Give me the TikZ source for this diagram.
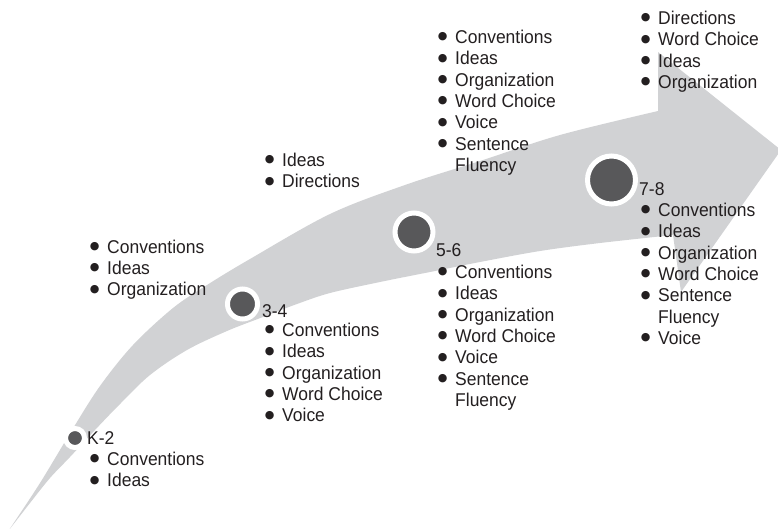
\documentclass[tikz,border=0pt]{standalone}
\usepackage{fontspec}
\setmainfont{Liberation Sans}[FakeStretch=0.945]
\newfontfamily\dotfont{DejaVu Sans}
\usepackage{xcolor}
\usepackage{tikz}
\usetikzlibrary{positioning}
\definecolor{bandgray}{RGB}{209,210,212}
\definecolor{dotgray}{RGB}{88,88,90}
\definecolor{inkblack}{RGB}{35,31,32}
\newcommand{\bul}{\makebox[7pt][c]{\raisebox{3.6pt}{\dotfont\fontsize{11}{11}\selectfont ●}} &}
\newcommand{\gradelist}[1]{\begin{tabular}[t]{@{}l@{\hspace{9pt}}l@{}}#1\end{tabular}}

\begin{document}
\begin{tikzpicture}[
  x=1pt,y=-1pt,
  stage/.style={circle,fill=dotgray,draw=white,line width=5pt,inner sep=0pt},
  grade/.style={anchor=base west,inner sep=0pt,text=inkblack,
                font=\fontsize{18.5}{21.3}\selectfont},
  items/.style={grade}
]
\useasboundingbox (0,0) rectangle (778,528);

% the sweeping band with its head
\fill[bandgray] (9,530)
  -- plot[smooth,tension=0.55] coordinates {(9,530) (40,483) (72,430) (100,386)
       (133,345) (173,308) (207,285) (250,259) (330,214) (405,185) (480,161)
       (560,135) (658,111)}
  -- (658,52) -- (781,150) -- (681,292) -- (673,235)
  -- plot[smooth,tension=0.55] coordinates {(673,235) (600,243) (540,251)
       (480,262) (430,272) (380,282) (330,293) (297,304) (263,317) (227,331)
       (187,350) (150,375) (120,404) (95,430) (70,457) (50,478) (30,503) (9,530)}
  -- cycle;

% stage markers
\node[stage,minimum size=19pt] (k2dot) at (75,438) {};
\node[stage,minimum size=30pt] (g34dot) at (242.5,304) {};
\node[stage,minimum size=38pt] (g56dot) at (414,232) {};
\node[stage,minimum size=48pt] (g78dot) at (611.5,180) {};

% grade labels
\node[grade] (k2) at (87,444.5) {K-2};
\node[grade] (g34) at (262,317.5) {3-4};
\node[grade] (g56) at (436,256.5) {5-6};
\node[grade] (g78) at (639,195.5) {7-8};

% traits above the band
\node[items] (k2top) at (91,253) {\gradelist{\bul Conventions\\ \bul Ideas\\ \bul Organization}};
\node[items] (g34top) at (266,166.5) {\gradelist{\bul Ideas\\ \bul Directions}};
\node[items] (g56top) at (439,43.5) {\gradelist{\bul Conventions\\ \bul Ideas\\
  \bul Organization\\ \bul Word Choice\\ \bul Voice\\ \bul Sentence\\ & Fluency}};
\node[items] (g78top) at (642,24.5) {\gradelist{\bul Directions\\ \bul Word Choice\\
  \bul Ideas\\ \bul Organization}};

% traits below the labels
\node[items] (k2low) at (91,465.5) {\gradelist{\bul Conventions\\ \bul Ideas}};
\node[items] (g34low) at (266,336.5) {\gradelist{\bul Conventions\\ \bul Ideas\\
  \bul Organization\\ \bul Word Choice\\ \bul Voice}};
\node[items] (g56low) at (439,278.5) {\gradelist{\bul Conventions\\ \bul Ideas\\
  \bul Organization\\ \bul Word Choice\\ \bul Voice\\ \bul Sentence\\ & Fluency}};
\node[items] (g78low) at (642,216.5) {\gradelist{\bul Conventions\\ \bul Ideas\\
  \bul Organization\\ \bul Word Choice\\ \bul Sentence\\ & Fluency\\ \bul Voice}};
\end{tikzpicture}
\end{document}
